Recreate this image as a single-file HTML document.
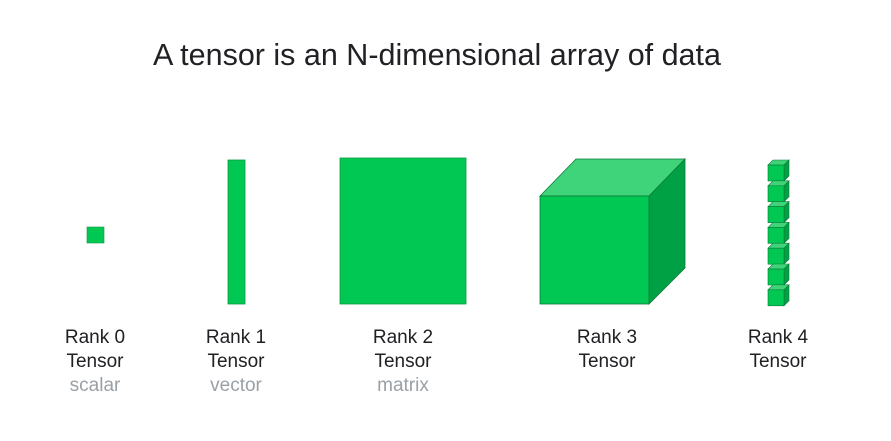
<!DOCTYPE html>
<html><head><meta charset="utf-8"><style>
body{margin:0;background:#fff;}
svg{display:block;font-family:"Liberation Sans",sans-serif;}
.l{font-size:19px;fill:#202124;text-anchor:middle;}
.g{font-size:19px;fill:#9aa0a6;text-anchor:middle;}
</style></head><body>
<svg width="891" height="441" viewBox="0 0 891 441">
<rect width="891" height="441" fill="#fff"/>
<text x="437" y="65" text-anchor="middle" font-size="30.5" fill="#202124">A tensor is an N-dimensional array of data</text>
<rect x="87" y="227" width="17" height="16" fill="#00c853" stroke="#0a9a40" stroke-width="0.6"/>
<rect x="228" y="160" width="17" height="144" fill="#00c853" stroke="#0a9a40" stroke-width="0.8"/>
<rect x="340" y="158" width="126" height="146" fill="#00c853" stroke="#0a9a40" stroke-width="0.8"/>
<g stroke="#0b7a38" stroke-width="0.8">
<polygon points="540,196 576,159 685,159 649,196" fill="#40d47a"/>
<polygon points="649,196 685,159 685,268 649,304" fill="#00a145"/>
<rect x="540" y="196" width="109" height="108" fill="#00c853"/>
</g>
<g id="r4" stroke="#0b7a38" stroke-width="0.6"></g>
<g>
<text class="l" x="95" y="343">Rank 0</text><text class="l" x="95" y="367">Tensor</text><text class="g" x="95" y="391">scalar</text>
<text class="l" x="236" y="343">Rank 1</text><text class="l" x="236" y="367">Tensor</text><text class="g" x="236" y="391">vector</text>
<text class="l" x="403" y="343">Rank 2</text><text class="l" x="403" y="367">Tensor</text><text class="g" x="403" y="391">matrix</text>
<text class="l" x="607" y="343">Rank 3</text><text class="l" x="607" y="367">Tensor</text>
<text class="l" x="778" y="343">Rank 4</text><text class="l" x="778" y="367">Tensor</text>
</g>
</svg>
<script>
const g=document.getElementById('r4');const ns='http://www.w3.org/2000/svg';
for(let i=0;i<7;i++){const y=165+i*20.8,x=768,w=16,h=16,d=5;
const c=document.createElementNS(ns,'g');


c.innerHTML=`<polygon points="${x},${y} ${x+d},${y-d} ${x+w+d},${y-d} ${x+w},${y}" fill="#40d47a"/><polygon points="${x+w},${y} ${x+w+d},${y-d} ${x+w+d},${y+h-d} ${x+w},${y+h}" fill="#00a145"/><rect x="${x}" y="${y}" width="${w}" height="${h}" fill="#00c853"/>`;
g.appendChild(c);}
</script>
</body></html>
